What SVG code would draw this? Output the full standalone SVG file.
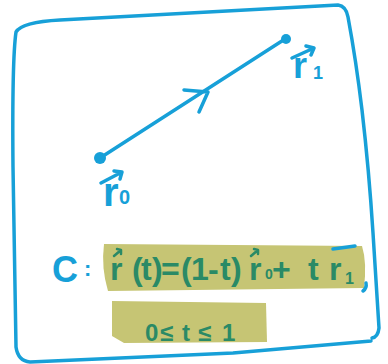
<svg xmlns="http://www.w3.org/2000/svg" width="388" height="364" viewBox="0 0 388 364">
<defs>
<style>
.b{stroke:#17a0d8;fill:none;stroke-width:3.5;stroke-linecap:round;stroke-linejoin:round}
.bt{fill:#17a0d8;font-family:"Liberation Sans",sans-serif;font-weight:bold}
.g{fill:#2a8a66;font-family:"Liberation Sans",sans-serif;font-weight:bold}
.ga{stroke:#2a8a66;fill:none;stroke-width:2.5;stroke-linecap:round;stroke-linejoin:round}
.hl{fill:#c6c574}
</style>
</defs>
<rect width="388" height="364" fill="#fff"/>
<g id="frame">
<path class="b" d="M16,32 Q22,22 60,20 L338,5 Q346,6 348,17 Q356,60 362,110 Q369,170 373,233 L379,328 Q378,337 372,338 M371,341 L233,353 L30,362 Q18,361 16,347 L13,167 Q12,60 16,32"/>
</g>
<g id="segment">
<line class="b" x1="100" y1="158" x2="285" y2="39"/>
<path class="b" d="M184,90 L208,92 L199,112"/>
<circle cx="100" cy="158" r="6" fill="#17a0d8"/>
<circle cx="286" cy="39" r="5" fill="#17a0d8"/>
</g>
<g id="r0">
<path class="b" d="M101,183 L122,172 M114,171 L122,172 L120,179"/>
<text class="bt" x="103" y="206" font-size="40">r</text>
<text class="bt" x="119" y="204" font-size="20">0</text>
</g>
<g id="r1">
<path class="b" d="M292,58 L314,48 M306,46 L314,48 L311,55"/>
<text class="bt" x="293" y="78" font-size="36">r</text>
<text class="bt" x="313" y="79" font-size="18">1</text>
</g>
<g id="equation">
<path class="hl" d="M104,244 L362,246 Q367,262 364,288 L108,291 Q101,268 104,244 Z"/>
<path class="hl" d="M112,301 L266,303 L267,342 L124,343 L112,336 Z"/>
<text class="bt" x="52" y="282" font-size="36" font-weight="normal">C</text>
<text class="bt" x="84" y="276" font-size="22">:</text>
<text class="g" font-size="32" y="280" x="110 132 141 152 161 181 191 208 220 231 249">r(t)=(1-t)r</text>
<text class="g" font-size="14" y="279" x="265">0</text>
<text class="g" font-size="32" y="280" x="272 308 329">+tr</text>
<text class="g" font-size="16" y="284" x="345">1</text>
<path class="ga" d="M114,256 L121,250 M117,249 L121,250 L121,254 M251,256 L258,250 M254,249 L258,250 L258,254"/>
<path class="b" d="M333,249 L355,246" stroke-width="3"/>
<path class="b" d="M366,283 Q367,288 363,291" stroke-width="3"/>
<text class="g" font-size="24" y="341" x="145 160 182 198 222">0≤t≤1</text>
</g>
</svg>
